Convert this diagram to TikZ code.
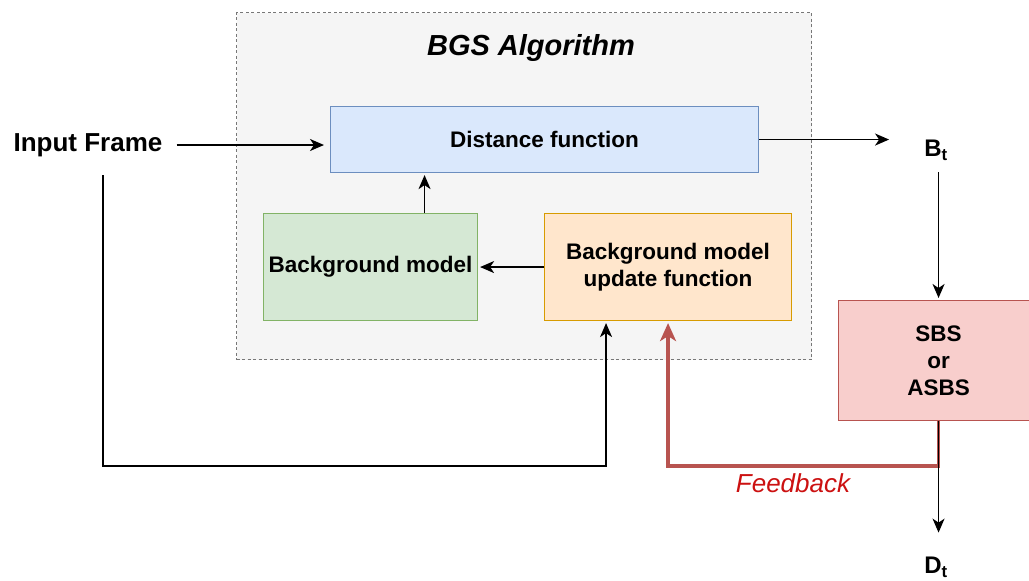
\documentclass[tikz,border=0pt]{standalone}
\usepackage{fontspec}
\setmainfont{Liberation Sans}
\usetikzlibrary{arrows.meta,calc}
\definecolor{contfill}{HTML}{F5F5F5}
\definecolor{contdraw}{HTML}{777777}
\definecolor{bluefill}{HTML}{DAE8FC}
\definecolor{bluedraw}{HTML}{6C8EBF}
\definecolor{greenfill}{HTML}{D5E8D4}
\definecolor{greendraw}{HTML}{82B366}
\definecolor{orangefill}{HTML}{FFE6CC}
\definecolor{orangedraw}{HTML}{D79B00}
\definecolor{redfill}{HTML}{F8CECC}
\definecolor{reddraw}{HTML}{B85450}
\definecolor{fbtext}{HTML}{CC1111}
\begin{document}
\begin{tikzpicture}[x=1pt,y=-1pt,
  box/.style={draw, line width=1.1pt, anchor=north west, align=center, inner sep=0pt,
    font=\bfseries\fontsize{22.5}{27}\selectfont},
  lbl/.style={inner sep=0pt, font=\bfseries\fontsize{26}{30}\selectfont},
  conn/.style={line width=1.6pt, -{Stealth[length=14pt,width=12pt,inset=4pt]}},
  fb/.style={line width=3.2pt, draw=reddraw, -{Stealth[length=18pt,width=16pt,inset=5pt]}},
  container/.style={draw=contdraw, fill=contfill, line width=1pt, dash pattern=on 3pt off 2.5pt, anchor=north west, inner sep=0pt}]
\useasboundingbox (0,0) rectangle (1029,581);
\fill[white] (0,0) rectangle (1029,581);

\node[container, minimum width=575, minimum height=347] (alg) at (236,12) {};
\node[inner sep=0pt, font=\bfseries\itshape\fontsize{29}{34}\selectfont] (title) at (531,48) {BGS Algorithm};

\node[box, fill=bluefill, draw=bluedraw, minimum width=428, minimum height=66] (dist) at (330,106) {Distance function};
\node[box, fill=greenfill, draw=greendraw, minimum width=214, minimum height=107] (bgm) at (263,213) {Background model};
\node[box, fill=orangefill, draw=orangedraw, minimum width=247, minimum height=107] (upd) at (544,213) {Background model\\update function};
\node[box, fill=redfill, draw=reddraw, minimum width=200, minimum height=120] (sbs) at (838,300) {SBS\\or\\ASBS};

\node[lbl] (inp) at (88,145) {Input Frame};
\node[lbl, font=\bfseries\fontsize{24}{28}\selectfont] (bt) at (936,150) {B\textsubscript{t}};
\node[lbl, font=\bfseries\fontsize{24}{28}\selectfont] (dt) at (936,567) {D\textsubscript{t}};
\node[inner sep=0pt, text=fbtext, font=\itshape\fontsize{26}{30}\selectfont] (fbl) at (793,483) {Feedback};

\coordinate (ifd) at (103,175);

\draw[conn, shorten <=14pt, shorten >=6pt] (inp.east) -- (inp.east -| dist.west);
\draw[conn, shorten >=35pt] (dist.east) -- (dist.east -| bt.west);
\draw[conn, shorten <=12pt, shorten >=2pt] (sbs.north |- bt.south) -- (sbs.north);
\draw[conn, shorten >=2pt] ([xshift=54pt]bgm.north) -- ([xshift=54pt]bgm.north |- dist.south);
\draw[conn, shorten >=2pt] (upd.west) -- (bgm.east);
\draw[conn, shorten >=2pt] (ifd) -- (ifd |- 0,466) -| ([xshift=-62pt]upd.south);
\draw[fb, shorten >=2pt] (sbs.south) -- (sbs.south |- 0,466) -| (upd.south);
\draw[conn, shorten >=24pt] (sbs.south) -- (sbs.south |- dt.north);
\end{tikzpicture}
\end{document}
